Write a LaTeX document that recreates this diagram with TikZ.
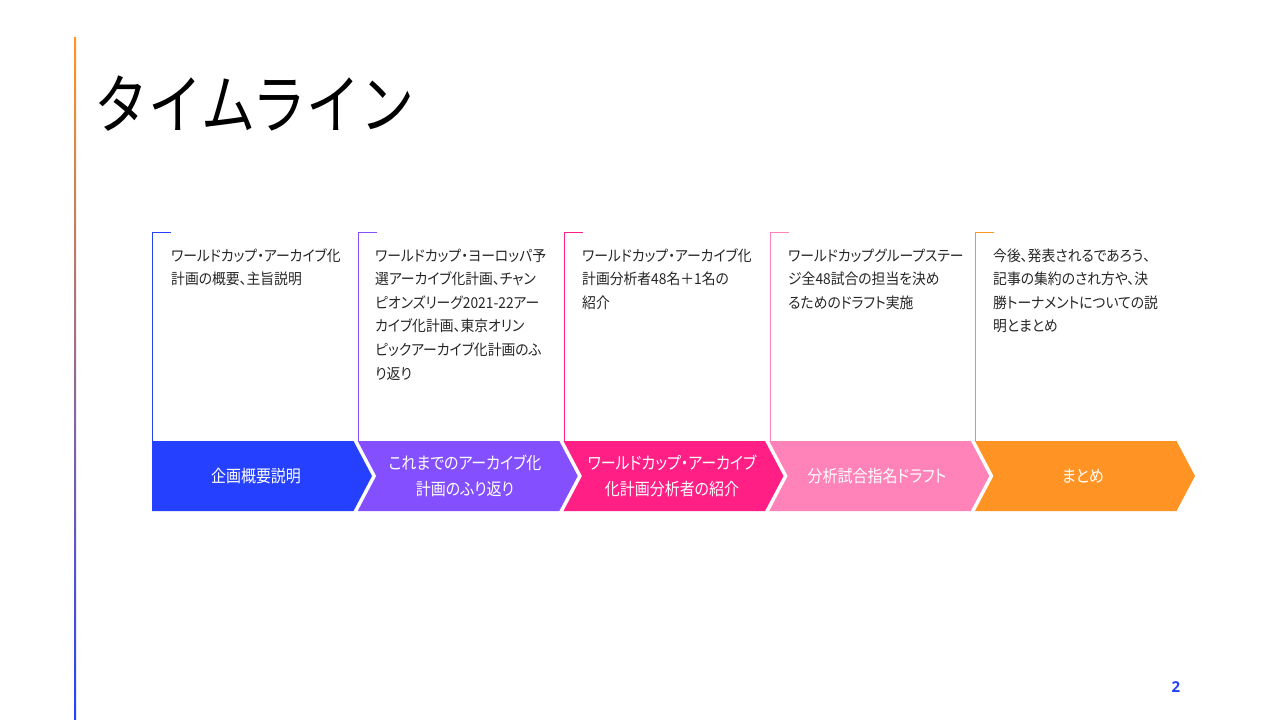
\documentclass[tikz,border=0pt]{standalone}
\usepackage{fontspec}
\setmainfont{Noto Sans CJK JP}[RawFeature=+palt]
\newfontfamily\titlefont{Noto Sans CJK JP}
\newfontfamily\descfont{Noto Sans CJK JP}[RawFeature=+palt, FakeStretch=0.92]
\newfontfamily\chevfont{Noto Sans CJK JP}[RawFeature=+palt, FakeStretch=0.88]
\newfontfamily\numfont{Open Sans}
\definecolor{cblue}{HTML}{2541FF}
\definecolor{cpurple}{HTML}{8450FF}
\definecolor{cpink}{HTML}{FF1F85}
\definecolor{clpink}{HTML}{FF82B8}
\definecolor{corange}{HTML}{FF9425}
\tikzset{
  desc/.style={anchor=base west, inner sep=0pt, align=left, font=\descfont\fontsize{15}{23.6}\selectfont, text=black!85},
  chevlabel/.style={inner sep=0pt, align=center, text=white, font=\chevfont\fontsize{17}{26}\selectfont},
  bracket/.style={line width=1pt},
}
\begin{document}
\begin{tikzpicture}[x=1pt,y=-1pt]
\useasboundingbox (0,0) rectangle (1280,720);
\fill[white] (0,0) rectangle (1280,720);
% left gradient bar
\shade[top color=corange, bottom color=cblue] (74,37) rectangle (76,720);
% title
\node[anchor=base west, inner sep=0pt, font=\titlefont\fontsize{54}{60}\selectfont] (title) at (94,128) {\scalebox{1}[1.2]{タイムライン}};
% chevrons
\fill[cblue] (152,441) -- (353.5,441) -- (372,476) -- (353.5,511) -- (152,511) -- cycle;
\fill[cpurple] (357.75,441) -- (559.25,441) -- (577.75,476) -- (559.25,511) -- (357.75,511) -- (376.25,476) -- cycle;
\fill[cpink] (563.5,441) -- (765,441) -- (783.5,476) -- (765,511) -- (563.5,511) -- (582,476) -- cycle;
\fill[clpink] (769.25,441) -- (970.75,441) -- (989.25,476) -- (970.75,511) -- (769.25,511) -- (787.75,476) -- cycle;
\fill[corange] (975,441) -- (1176.5,441) -- (1195,476) -- (1176.5,511) -- (975,511) -- (993.5,476) -- cycle;
% chevron labels
\node[chevlabel] (c1) at (256,476) {企画概要説明};
\node[chevlabel] (c2) at (465,476) {これまでのアーカイブ化\\計画のふり返り};
\node[chevlabel] (c3) at (672,476) {ワールドカップ・アーカイブ\\化計画分析者の紹介};
\node[chevlabel] (c4) at (877,476) {分析試合指名ドラフト};
\node[chevlabel] (c5) at (1083,476) {まとめ};
% brackets
\draw[bracket, cblue] (152.7,441) -- (152.7,232) -- (171,232);
\draw[bracket, cpurple] (358.3,441) -- (358.3,232) -- (376.5,232);
\draw[bracket, cpink] (564.3,441) -- (564.3,232) -- (582.5,232);
\draw[bracket, clpink] (770,441) -- (770,232) -- (788.5,232);
\draw[bracket, corange] (975.7,441) -- (975.7,232) -- (994,232);
% descriptions (anchored at the baseline of their last line)
\node[desc] (d1) at (171,284.6) {ワールドカップ・アーカイブ化\\計画の概要、主旨説明};
\node[desc] (d2) at (375,379) {ワールドカップ・ヨーロッパ予\\選アーカイブ化計画、チャン\\ピオンズリーグ2021-22アー\\カイブ化計画、東京オリン\\ピックアーカイブ化計画のふ\\り返り};
\node[desc] (d3) at (582,308.2) {ワールドカップ・アーカイブ化\\計画分析者48名＋1名の\\紹介};
\node[desc] (d4) at (788,308.2) {ワールドカップグループステー\\ジ全48試合の担当を決め\\るためのドラフト実施};
\node[desc] (d5) at (993,331.8) {今後、発表されるであろう、\\記事の集約のされ方や、決\\勝トーナメントについての説\\明とまとめ};
% page number
\node[inner sep=0pt, text=cblue, font=\numfont\bfseries\fontsize{15}{18}\selectfont] (pg) at (1176,687) {2};
\end{tikzpicture}
\end{document}
